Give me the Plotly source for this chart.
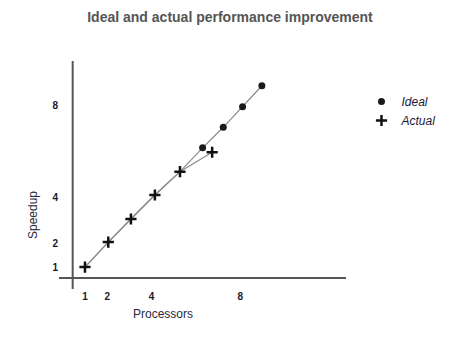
import plotly.graph_objects as go

# Data
ideal_x = [1, 2.05, 3.07, 4.15, 5.28, 6.30, 7.23, 8.10, 8.97]
ideal_y = [1, 2.08, 3.08, 4.12, 5.13, 6.16, 7.05, 7.94, 8.85]
ideal_marker_x = [6.30, 7.23, 8.10, 8.97]
ideal_marker_y = [6.16, 7.05, 7.94, 8.85]
actual_x = [1, 2.05, 3.07, 4.15, 5.28, 6.73]
actual_y = [1, 2.08, 3.08, 4.12, 5.13, 5.97]
tick_vals = [1, 2, 4, 8]
tick_text = ["1", "2", "4", "8"]

fig = go.Figure()

# lines
fig.add_trace(go.Scatter(x=ideal_x, y=ideal_y, mode="lines",
                         line=dict(color="#8a8a8a", width=1.2), showlegend=False, hoverinfo="skip"))
fig.add_trace(go.Scatter(x=actual_x, y=actual_y, mode="lines",
                         line=dict(color="#8a8a8a", width=1.2), showlegend=False, hoverinfo="skip"))
# markers
fig.add_trace(go.Scatter(x=ideal_marker_x, y=ideal_marker_y, mode="markers", name="Ideal",
                         marker=dict(symbol="circle", size=7, color="#1a1a1a")))
fig.add_trace(go.Scatter(x=actual_x, y=actual_y, mode="markers", name="Actual",
                         marker=dict(symbol="cross-thin", size=8, color="#111",
                                     line=dict(color="#111", width=2.5))))

# axis lines
fig.add_shape(type="line", xref="x", yref="y", x0=-0.17, x1=12.76, y0=0.524, y1=0.524,
              line=dict(color="#555", width=2))
fig.add_shape(type="line", xref="x", yref="y", x0=0.446, x1=0.446, y0=0.05, y1=9.92,
              line=dict(color="#555", width=2))

fig.add_annotation(text="Speedup", xref="paper", yref="paper", x=(33 - 59) / 287, y=(289 - 215) / 228,
                   xanchor="center", yanchor="middle",
                   showarrow=False, textangle=-90, font=dict(family="Liberation Sans", size=12, color="#2a2a3a"))
fig.add_annotation(text="Processors", xref="paper", yref="paper", x=(163 - 59) / 287, y=(289 - 314) / 228,
                   xanchor="center", yanchor="middle",
                   showarrow=False, font=dict(family="Liberation Sans", size=12, color="#2a2a3a"))

fig.update_layout(
    width=461, height=337,
    margin=dict(l=59, r=115, t=61, b=48),
    paper_bgcolor="white", plot_bgcolor="white",
    title=dict(text="<b>Ideal and actual performance improvement</b>", x=230 / 461, xref="container",
               xanchor="center", y=1 - 17 / 337, yanchor="middle",
               font=dict(family="Liberation Sans", size=14, color="#555")),
    xaxis=dict(range=[-0.17, 12.76], showgrid=False, zeroline=False, showline=False,
               tickvals=tick_vals, ticktext=tick_text, ticks="",
               tickfont=dict(family="Liberation Sans", size=10, color="#1a1a2a", weight="bold")),
    yaxis=dict(range=[0.05, 9.92], showgrid=False, zeroline=False, showline=False,
               tickvals=tick_vals, ticktext=tick_text, ticks="",
               tickfont=dict(family="Liberation Sans", size=10, color="#1a1a2a", weight="bold")),
    legend=dict(x=1.054, y=(289 - 87) / 228, xanchor="left", yanchor="top",
                font=dict(family="Liberation Sans", size=12, color="#1a1a3a", style="italic"),
                bgcolor="rgba(0,0,0,0)", itemwidth=30, tracegroupgap=0),
)

fig.write_html("out.html")
